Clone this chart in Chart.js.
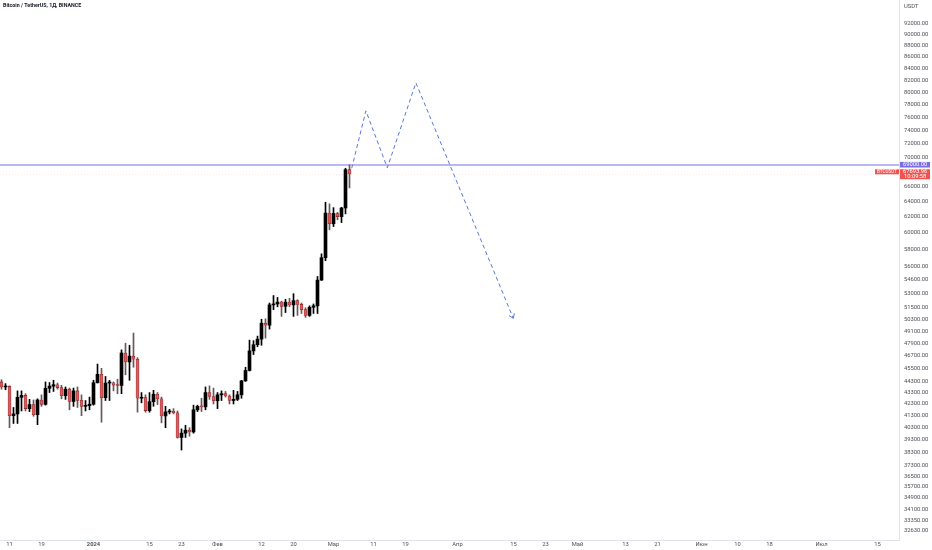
<!DOCTYPE html>
<html lang="ru">
<head>
<meta charset="utf-8">
<title>Bitcoin / TetherUS, 1Д, BINANCE</title>
<script src="https://cdn.jsdelivr.net/npm/chart.js@4.4.1/dist/chart.umd.min.js"></script>
<style>
  html, body { margin: 0; padding: 0; background: #fff; }
  #wrap { position: relative; width: 932px; height: 550px; }
</style>
</head>
<body>
<div id="wrap"><canvas id="btcChart" width="932" height="550"></canvas></div>
<script>
/* ---------------------------------------------------------
   Data (daily candles, 9 Dec 2023 - 5 Mar 2024)
--------------------------------------------------------- */
const firstCandleDate = '2023-12-09';

const opens  = [44250, 43800, 43850, 41300, 41450, 42880, 43050, 41900, 42250, 41380,
                42650, 42270, 43680, 43870, 44000, 43740, 43020, 43600, 42520, 43450,
                42620, 42100, 42160, 42280, 44180, 44950, 42850, 44150, 44180, 43970,
                43930, 46950, 46100, 46650, 46350, 42800, 42850, 41730, 42500, 43150,
                42750, 41280, 41620, 41680, 41550, 39500, 39850, 40100, 39950, 41800,
                42100, 42050, 43300, 42950, 42580, 43100, 43200, 43000, 42600, 42700,
                43100, 44350, 45300, 47150, 47750, 48300, 49900, 49700, 51800, 51900,
                52100, 51650, 52100, 51800, 52250, 51850, 51300, 50700, 51550, 51700,
                54500, 57050, 62500, 61150, 62450, 62050, 63150, 68300];
const highs  = [44450, 44100, 43900, 42000, 43450, 43450, 43200, 42700, 42650, 42750,
                43100, 44250, 44200, 44400, 44150, 43950, 43800, 43700, 43700, 43800,
                43100, 42600, 42900, 44400, 45900, 45500, 44750, 44400, 44250, 44500,
                47250, 47900, 47700, 48900, 46500, 43300, 43100, 43300, 43500, 43300,
                42900, 42100, 41850, 41900, 41700, 40200, 40500, 40300, 42200, 42200,
                42800, 43800, 43900, 43700, 43300, 43450, 43400, 43100, 43500, 43400,
                44400, 45600, 48200, 48150, 48600, 50300, 50350, 52000, 52800, 52600,
                52200, 52400, 52500, 53000, 52350, 52000, 51500, 51700, 51900, 54900,
                57500, 63900, 63700, 63200, 62600, 63250, 68500, 69000];
const lows   = [43600, 43550, 40300, 40650, 40650, 41700, 41700, 41650, 41250, 40550,
                42100, 42200, 43300, 43400, 43600, 42750, 42700, 41800, 42100, 42000,
                41300, 41700, 41800, 42200, 44150, 40750, 42600, 42600, 43450, 43200,
                43200, 44900, 44400, 45600, 41600, 42400, 41600, 41600, 42100, 42250,
                40700, 40300, 41450, 41450, 39450, 38500, 39500, 39600, 39850, 41650,
                41650, 41800, 42700, 42300, 41900, 42600, 42900, 42300, 42300, 42600,
                42800, 44300, 45250, 46800, 47550, 47700, 48400, 49300, 51300, 51600,
                50600, 51000, 51600, 50600, 50700, 50900, 50500, 50600, 50900, 50900,
                54450, 56700, 60400, 60800, 61650, 61300, 62400, 65800];
const closes = [43800, 43850, 41300, 41450, 42880, 43050, 41900, 42250, 41380, 42650,
                42270, 43680, 43870, 44000, 43740, 43020, 43600, 42520, 43450, 42620,
                42100, 42160, 42280, 44180, 44950, 42850, 44150, 44180, 43970, 43930,
                46950, 46100, 46650, 46350, 42800, 42850, 41730, 42500, 43150, 42750,
                41280, 41620, 41680, 41550, 39500, 39850, 40100, 39950, 41800, 42100,
                42050, 43300, 42950, 42580, 43100, 43200, 43000, 42600, 42700, 43100,
                44350, 45300, 47150, 47750, 48300, 49900, 49700, 51800, 51900, 52100,
                51650, 52100, 51800, 52250, 51850, 51300, 50700, 51550, 51700, 54500,
                57050, 62500, 61150, 62450, 62050, 63150, 68300, 67693.96];

// drawn projection (days counted from 11 Dec 2023)
const pathDays   = [85.55, 89.1, 94.45, 101.6, 125.95];
const pathPrices = [68490, 77040, 68570, 81580, 50400];

const levelPrice = 69000;
const countdown  = '10:09:58';

const xTickDates  = ['2023-12-11', '2023-12-19', '2024-01-01', '2024-01-15', '2024-01-23',
                     '2024-02-01', '2024-02-12', '2024-02-20', '2024-03-01', '2024-03-11',
                     '2024-03-19', '2024-04-01', '2024-04-15', '2024-04-23', '2024-05-01',
                     '2024-05-13', '2024-05-21', '2024-06-01', '2024-06-10', '2024-06-18',
                     '2024-07-01', '2024-07-15'];
const xTickLabels = ['11', '19', '2024', '15', '23', 'Фев', '12', '20', 'Мар', '11', '19',
                     'Апр', '15', '23', 'Май', '13', '21', 'Июн', '10', '18', 'Июл', '15'];

const yTicks = [92000, 90000, 88000, 86000, 84000, 82000, 80000, 78000, 76000, 74000,
                72000, 70000, 66000, 64000, 62000, 60000, 58000, 56000, 54600, 53000,
                51500, 50300, 49100, 47900, 46700, 45500, 44300, 43300, 42300, 41300,
                40300, 39300, 38300, 37300, 36500, 35700, 34900, 34100, 33350, 32630];

/* ---------------------------------------------------------
   Helpers
--------------------------------------------------------- */
const DAY_MS = 86400000;
const DAY0   = Date.UTC(2023, 11, 11);
function dayIndex(iso) { return (Date.parse(iso + 'T00:00:00Z') - DAY0) / DAY_MS; }

const firstDay   = dayIndex(firstCandleDate);
const candleDays = opens.map((_, i) => firstDay + i);
const isUp       = i => closes[i] >= opens[i];

const UP_COLOR     = '#000000';
const DOWN_COLOR   = '#e05a5c';
const DOWN_BORDER  = '#7c2426';
const PATH_COLOR   = '#5877d8';
const LEVEL_COLOR  = 'rgb(123,110,226)';
const BADGE_PURPLE = '#7b6ee2';
const LABEL_RED    = '#ef5350';
const FONT         = "Roboto, 'Noto Sans', sans-serif";

/* ---------------------------------------------------------
   Overlay: level line, price line, arrow head, axis badges
--------------------------------------------------------- */
const overlay = {
  id: 'overlay',
  afterDatasetsDraw(chart) {
    const { ctx, chartArea: a, scales: { x, y } } = chart;
    ctx.save();

    // last price dotted line
    const py = Math.round(y.getPixelForValue(closes[closes.length - 1])) + 0.5;
    ctx.strokeStyle = 'rgba(239,83,80,0.14)';
    ctx.lineWidth = 1;
    ctx.setLineDash([1, 2]);
    ctx.beginPath(); ctx.moveTo(a.left, py); ctx.lineTo(a.right, py); ctx.stroke();

    // horizontal level (soft, spread over two pixel rows)
    const ly = Math.round(y.getPixelForValue(levelPrice));
    ctx.setLineDash([]);
    ctx.strokeStyle = LEVEL_COLOR;
    ctx.lineWidth = 1.2;
    ctx.beginPath(); ctx.moveTo(a.left, ly); ctx.lineTo(a.right, ly); ctx.stroke();

    // arrow head at the end of the path
    const n  = pathDays.length;
    const x1 = x.getPixelForValue(pathDays[n - 2]), y1 = y.getPixelForValue(pathPrices[n - 2]);
    const x2 = x.getPixelForValue(pathDays[n - 1]), y2 = y.getPixelForValue(pathPrices[n - 1]);
    const ang = Math.atan2(y2 - y1, x2 - x1);
    ctx.strokeStyle = PATH_COLOR;
    ctx.lineWidth = 1;
    ctx.beginPath();
    [-0.6, 0.6].forEach(s => {
      ctx.moveTo(x2, y2);
      ctx.lineTo(x2 - 5 * Math.cos(ang + s), y2 - 5 * Math.sin(ang + s));
    });
    ctx.stroke();
    ctx.restore();
  },
  afterDraw(chart) {
    const { ctx, chartArea: a, scales: { y } } = chart;
    const W = chart.width;
    ctx.save();
    ctx.textBaseline = 'middle';

    // title + currency
    ctx.fillStyle = '#131722';
    ctx.font = 'bold 5.3px ' + FONT;
    ctx.textAlign = 'left';
    ctx.fillText('Bitcoin / TetherUS, 1Д, BINANCE', 3, 6);
    ctx.font = '5.8px ' + FONT;
    ctx.fillStyle = '#4d4f57';
    ctx.fillText('USDT', a.right + 5, 7);

    // level badge
    const ly = y.getPixelForValue(levelPrice);
    ctx.fillStyle = BADGE_PURPLE;
    ctx.fillRect(a.right + 1, ly - 2.8, W - a.right - 3, 5.6);
    ctx.fillStyle = '#fff';
    ctx.fillText(levelPrice.toFixed(2), a.right + 4, ly);

    // last price badge
    const last = closes[closes.length - 1];
    const py = y.getPixelForValue(last);
    ctx.fillStyle = LABEL_RED;
    ctx.fillRect(a.right + 1, py - 4.8, W - a.right - 3, 10);
    ctx.fillRect(a.right - 24, py - 4.8, 24, 5);
    ctx.fillStyle = '#fff';
    ctx.fillText(last.toFixed(2), a.right + 4, py - 2.2);
    ctx.fillText(countdown, a.right + 5, py + 2.6);
    ctx.font = '4.6px ' + FONT;
    ctx.textAlign = 'center';
    ctx.fillText('BTCUSDT', a.right - 12, py - 2.2);
    ctx.restore();
  }
};

/* ---------------------------------------------------------
   Chart
--------------------------------------------------------- */
const xMin = -2.375, xMax = 222.375;
const yMin = 32030,  yMax = 96630;

new Chart(document.getElementById('btcChart'), {
  type: 'bar',
  data: {
    datasets: [
      {
        type: 'bar',
        label: 'Wicks',
        data: candleDays.map((d, i) => ({ x: d, y: [lows[i], highs[i]] })),
        backgroundColor: ctx => isUp(ctx.dataIndex) ? UP_COLOR : '#6a5656',
        barThickness: 1,
        grouped: false,
        order: 2
      },
      {
        type: 'bar',
        label: 'Bodies',
        data: candleDays.map((d, i) => ({ x: d, y: [opens[i], closes[i]] })),
        backgroundColor: ctx => isUp(ctx.dataIndex) ? UP_COLOR : DOWN_COLOR,
        borderColor: ctx => isUp(ctx.dataIndex) ? UP_COLOR : DOWN_BORDER,
        borderWidth: ctx => isUp(ctx.dataIndex) ? 0 : 0.6,
        borderSkipped: false,
        barThickness: 3,
        minBarLength: 1,
        grouped: false,
        order: 1
      },
      {
        type: 'line',
        label: 'Projection',
        data: pathDays.map((d, i) => ({ x: d, y: pathPrices[i] })),
        borderColor: PATH_COLOR,
        borderWidth: 1,
        borderDash: [4, 3],
        pointRadius: 0,
        tension: 0,
        fill: false,
        order: 0
      }
    ]
  },
  options: {
    responsive: false,
    animation: false,
    layout: { padding: 0 },
    plugins: {
      legend: { display: false },
      tooltip: { enabled: false }
    },
    scales: {
      x: {
        type: 'linear',
        position: 'bottom',
        offset: false,
        bounds: 'data',
        min: xMin, max: xMax,
        grid: { display: false, drawTicks: false },
        border: { display: true, color: '#e0e3eb' },
        afterBuildTicks: s => { s.ticks = xTickDates.map(d => ({ value: dayIndex(d) })); },
        afterFit: s => { s.height = 10; s.paddingLeft = 0; s.paddingRight = 0; },
        ticks: {
          autoSkip: false,
          maxRotation: 0,
          padding: 1,
          color: '#4d4f57',
          font: ctx => ({ family: FONT, size: 5.8,
                          weight: xTickLabels[ctx.index] === '2024' ? 'bold' : 'normal' }),
          callback: (v, i) => xTickLabels[i]
        }
      },
      y: {
        type: 'logarithmic',
        position: 'right',
        bounds: 'data',
        min: yMin, max: yMax,
        grid: { display: false, drawTicks: false },
        border: { display: true, color: '#e0e3eb' },
        afterBuildTicks: s => { s.ticks = yTicks.map(v => ({ value: v })); },
        afterFit: s => { s.width = 33; s.paddingTop = 0; s.paddingBottom = 0; },
        ticks: {
          padding: 5,
          color: '#4d4f57',
          font: { family: FONT, size: 5.8 },
          callback: v => Number(v).toFixed(2)
        }
      }
    }
  },
  plugins: [overlay]
});
</script>
</body>
</html>
